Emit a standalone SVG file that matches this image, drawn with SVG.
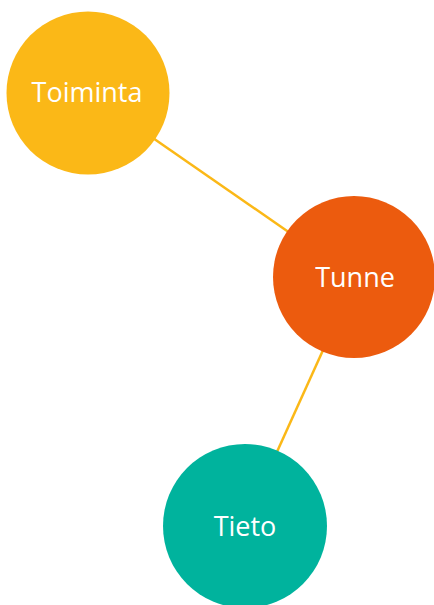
<svg xmlns="http://www.w3.org/2000/svg" width="434" height="605" viewBox="0 0 434 605">
<style>
.lbl{font-family:"Open Sans","Liberation Sans",sans-serif;font-size:27px;fill:#fff;text-anchor:middle}
.con{stroke:#FBB817;stroke-width:2.5;fill:none}
</style>
<rect width="434" height="605" fill="#fff"/>
<g id="connectors">
<line class="con" x1="150" y1="136" x2="290" y2="233"/>
<line class="con" x1="324" y1="348" x2="276" y2="454"/>
</g>
<g id="toiminta">
<circle cx="88" cy="93" r="81.5" fill="#FBB817"/>
<text class="lbl" x="87" y="102">Toiminta</text>
</g>
<g id="tunne">
<circle cx="354" cy="277" r="81" fill="#EC5B0E"/>
<text class="lbl" x="355" y="287">Tunne</text>
</g>
<g id="tieto">
<circle cx="245" cy="526" r="82" fill="#00B39D"/>
<text class="lbl" x="245" y="536">Tieto</text>
</g>
</svg>
